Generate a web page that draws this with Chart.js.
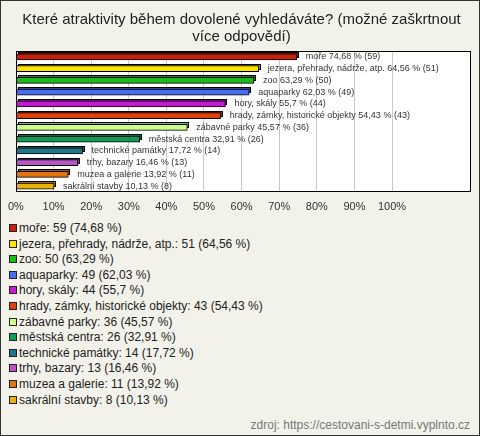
<!DOCTYPE html>
<html>
<head>
<meta charset="utf-8">
<script src="https://cdn.jsdelivr.net/npm/chart.js@4/dist/chart.umd.min.js"></script>
<style>
  body { margin: 0; }
  #box {
    position: relative; width: 480px; height: 436px; box-sizing: border-box;
    border: 1px solid #333; background: #f3f2ea; overflow: hidden;
    font-family: "Liberation Sans", Arial, sans-serif;
  }
  #chart { position: absolute; left: -1px; top: -1px; }
  #legend { position: absolute; left: 8px; top: 220px; margin: 0; padding: 0; list-style: none; }
  #legend li { height: 15.6px; line-height: 15.6px; font-size: 12px; color: #222; white-space: nowrap; }
  #legend span.sq {
    display: inline-block; width: 6px; height: 6px; border: 1px solid #222;
    margin-right: 2px; vertical-align: 0px;
  }
  #source { position: absolute; right: 9px; top: 417px; font-size: 12px; color: #777; }
</style>
</head>
<body>
<div id="box">
  <canvas id="chart" width="480" height="218"></canvas>
  <ul id="legend"></ul>
  <div id="source">zdroj: https://cestovani-s-detmi.vyplnto.cz</div>
</div>
<script>
// answers, in the order of the survey
const categories = ['moře', 'jezera, přehrady, nádrže, atp.', 'zoo', 'aquaparky', 'hory, skály',
    'hrady, zámky, historické objekty', 'zábavné parky', 'městská centra', 'technické památky',
    'trhy, bazary', 'muzea a galerie', 'sakrální stavby'];
const counts = [59, 51, 50, 49, 44, 43, 36, 26, 14, 13, 11, 8];
const percents = [74.68, 64.56, 63.29, 62.03, 55.7, 54.43, 45.57, 32.91, 17.72, 16.46, 13.92, 10.13];
const tickValues = [0, 10, 20, 30, 40, 50, 60, 70, 80, 90, 100];

const colors = ['#c4200c', '#ffe400', '#1cbb1c', '#4a6cf0', '#c21ccc', '#e0400c',
    '#ccff88', '#129a5a', '#1f7889', '#b856c6', '#e27410', '#e6b20c'];

const fmt = v => String(v).replace('.', ',');

// html legend
const legend = document.getElementById('legend');
categories.forEach((c, i) => {
    const li = document.createElement('li');
    li.innerHTML = '<span class="sq" style="background:' + colors[i] + '"></span>' +
        c + ': ' + counts[i] + ' (' + fmt(percents[i]) + ' %)';
    legend.appendChild(li);
});

function shade(hex, f) {
    const n = parseInt(hex.slice(1), 16);
    const r = Math.round(((n >> 16) & 255) * f), g = Math.round(((n >> 8) & 255) * f), b = Math.round((n & 255) * f);
    return 'rgb(' + r + ',' + g + ',' + b + ')';
}

// white plot box with black frame
const plotBox = {
    id: 'plotBox',
    beforeDraw(chart) {
        const a = chart.chartArea, ctx = chart.ctx;
        ctx.save();
        ctx.fillStyle = '#fff';
        ctx.fillRect(a.left, a.top, a.right - a.left, a.bottom - a.top);
        ctx.restore();
    },
    afterDraw(chart) {
        const a = chart.chartArea, ctx = chart.ctx;
        ctx.save();
        ctx.strokeStyle = '#000';
        ctx.lineWidth = 1;
        ctx.strokeRect(Math.round(a.left) + 0.5, Math.round(a.top) + 0.5,
            Math.round(a.right - a.left) - 1, Math.round(a.bottom - a.top) - 1);
        ctx.restore();
    }
};

// fake 3d top face behind each bar, and value labels after
const bar3d = {
    id: 'bar3d',
    beforeDatasetsDraw(chart) {
        const ctx = chart.ctx;
        chart.getDatasetMeta(0).data.forEach((bar, i) => {
            const h = bar.height;
            const x0 = Math.round(bar.base) + 2, x1 = Math.round(bar.x) + 2;
            const y0 = Math.round(bar.y - h / 2) - 2;
            ctx.save();
            ctx.fillStyle = shade(colors[i], 0.7);
            ctx.strokeStyle = '#000';
            ctx.lineWidth = 1;
            ctx.fillRect(x0, y0, x1 - x0, h);
            ctx.strokeRect(x0 + 0.5, y0 + 0.5, x1 - x0 - 1, h - 1);
            ctx.restore();
        });
    },
    afterDatasetsDraw(chart) {
        const ctx = chart.ctx;
        ctx.save();
        ctx.font = '9px "Liberation Sans", Arial, sans-serif';
        ctx.fillStyle = '#333';
        ctx.textBaseline = 'middle';
        chart.getDatasetMeta(0).data.forEach((bar, i) => {
            ctx.fillText(categories[i] + ' ' + fmt(percents[i]) + ' % (' + counts[i] + ')', bar.x + 9, bar.y);
        });
        ctx.restore();
    }
};

new Chart(document.getElementById('chart'), {
    type: 'bar',
    data: {
        labels: categories,
        datasets: [{
            data: percents,
            backgroundColor: colors,
            borderColor: '#000',
            borderWidth: 1,
            borderSkipped: false,
            barThickness: 6
        }]
    },
    options: {
        indexAxis: 'y',
        responsive: false,
        animation: false,
        layout: { padding: { left: 12, right: 9, top: 0, bottom: 0 } },
        scales: {
            x: {
                min: 0,
                max: 121,
                afterFit: s => { s.height = 26; },
                border: { display: false },
                grid: {
                    drawTicks: false,
                    color: c => (c.tick && tickValues.includes(c.tick.value) && c.tick.value > 0) ? '#c8c8c8' : 'rgba(0,0,0,0)'
                },
                ticks: {
                    stepSize: 10,
                    padding: 8,
                    color: '#333',
                    font: { family: '"Liberation Sans", Arial, sans-serif', size: 11 },
                    callback: v => tickValues.includes(v) ? v + '%' : ''
                }
            },
            y: { display: false }
        },
        plugins: {
            legend: { display: false },
            tooltip: { enabled: false },
            title: {
                display: true,
                text: ['Které atraktivity během dovolené vyhledáváte? (možné zaškrtnout', 'více odpovědí)'],
                color: '#222',
                font: { family: '"Liberation Sans", Arial, sans-serif', size: 15, weight: 'normal', lineHeight: 1.1 },
                padding: { top: 12, bottom: 6 }
            }
        }
    },
    plugins: [plotBox, bar3d]
});
</script>
</body>
</html>
